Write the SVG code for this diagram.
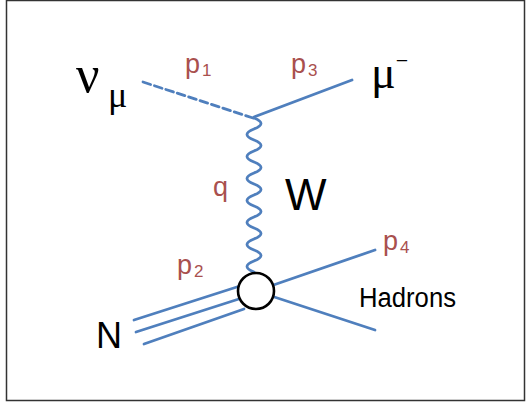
<svg xmlns="http://www.w3.org/2000/svg" width="526" height="406" viewBox="0 0 526 406">
<style>
.ln{fill:none;stroke:#4f7fbd;stroke-width:2.8;stroke-linecap:round}
.lbl{font-family:"Liberation Sans",Arial,sans-serif;fill:#a9504e;font-size:27px}
.blk{font-family:"Liberation Sans",Arial,sans-serif;fill:#000}
.gr{font-family:"Liberation Serif","Times New Roman",serif;fill:#000}
</style>
<rect x="6.5" y="0.5" width="518" height="400" fill="#fff" stroke="#333" stroke-width="1.5"/>
<g id="connectors">
<path class="ln" d="M143,82 L253,118" stroke-dasharray="8,4"/>
<path class="ln" d="M254,117 L352,80"/>
<path class="ln" d="M254,118 q14,5.5 0,11 t0,11 t0,11 t0,11 t0,11 t0,11 t0,11 t0,11 t0,11 t0,11 t0,11 t0,11 t0,11 t0,11"/>
<path class="ln" d="M134,320 L240,286"/>
<path class="ln" d="M136,332 L242,298"/>
<path class="ln" d="M144,344 L244,309"/>
<path class="ln" d="M256,291 L375,250"/>
<path class="ln" d="M256,291 L375,330"/>
</g>
<g id="vertex">
<circle cx="256" cy="291" r="18" fill="#fff" stroke="#000" stroke-width="2.6"/>
</g>
<g id="nu">
<text class="gr" x="76" y="92" font-size="52">ν</text>
<text class="gr" x="108" y="107" font-size="36">μ</text>
</g>
<g id="muon">
<text class="gr" x="371" y="88" font-size="46">μ<tspan font-size="22" dy="-20">−</tspan></text>
</g>
<g id="labels">
<text class="lbl" x="185" y="73">p<tspan font-size="17" dx="2" dy="3">1</tspan></text>
<text class="lbl" x="291" y="73">p<tspan font-size="17" dx="2" dy="3">3</tspan></text>
<text class="lbl" x="177" y="274">p<tspan font-size="17" dx="2" dy="3">2</tspan></text>
<text class="lbl" x="383" y="250">p<tspan font-size="17" dx="2" dy="3">4</tspan></text>
<text class="lbl" x="213" y="196">q</text>
</g>
<g id="W"><text class="blk" x="285" y="210" font-size="44">W</text></g>
<g id="N"><text class="blk" x="96" y="348" font-size="36">N</text></g>
<g id="hadrons"><text class="blk" x="359" y="307" font-size="27" textLength="97" lengthAdjust="spacingAndGlyphs">Hadrons</text></g>
</svg>
